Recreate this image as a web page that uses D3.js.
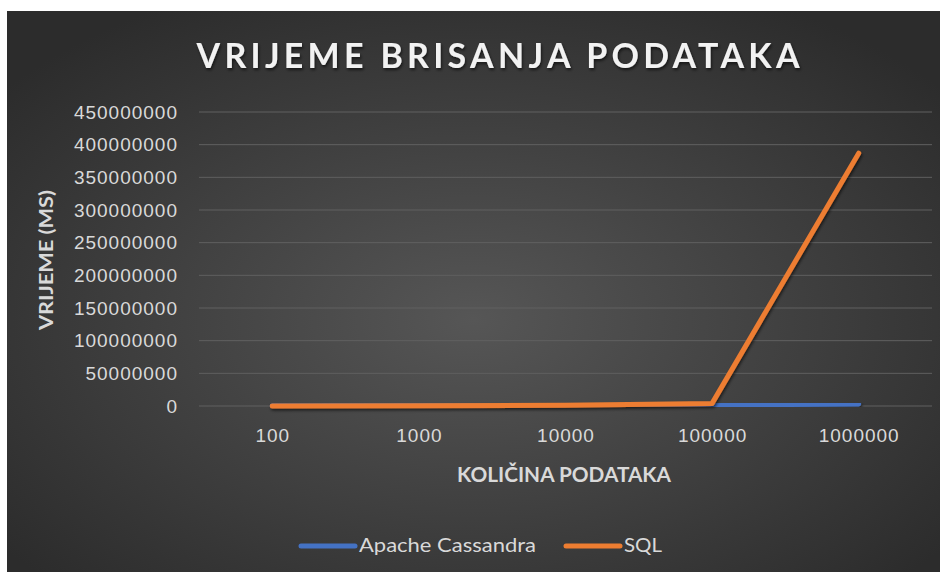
<!DOCTYPE html>
<html>
<head>
<meta charset="utf-8">
<script src="https://cdn.jsdelivr.net/npm/d3@7"></script>
<style>
body { margin: 0; background: #fff; }
svg { display: block; font-family: Lato, 'Open Sans', sans-serif; }
.grid line { stroke: #606060; stroke-width: 1; }
.axis text { fill: #d9d9d9; font-size: 19px; letter-spacing: 1px; }
.axis path, .axis line { display: none; }
.line { fill: none; stroke-width: 5px; stroke-linejoin: round; stroke-linecap: round; }
</style>
</head>
<body>
<svg width="940" height="572"></svg>
<script>
// Categories and series.
var categories = ['100', '1000', '10000', '100000', '1000000'];
var cassandra = [50000, 200000, 500000, 1500000, 3000000];
var sqlValues = [100000, 300000, 1000000, 4000000, 387000000];
var yTicks = [0, 50000000, 100000000, 150000000, 200000000, 250000000, 300000000, 350000000, 400000000, 450000000];
var seriesNames = ['Apache Cassandra', 'SQL'];
var seriesColors = ['#4472c4', '#ed7d31'];

var svg = d3.select('svg');
var defs = svg.append('defs');

// Excel-like dark radial background.
var grad = defs.append('radialGradient')
	.attr('id', 'bg')
	.attr('cx', '50%').attr('cy', '55%').attr('r', '65%');
grad.append('stop').attr('offset', '0%').attr('stop-color', '#565656');
grad.append('stop').attr('offset', '100%').attr('stop-color', '#2c2c2c');

var shadow = defs.append('filter').attr('id', 'shadow')
	.attr('x', '-10%').attr('y', '-10%').attr('width', '120%').attr('height', '130%');
shadow.append('feDropShadow')
	.attr('dx', 1).attr('dy', 2).attr('stdDeviation', 1.5)
	.attr('flood-color', '#000').attr('flood-opacity', 0.6);

svg.append('rect')
	.attr('x', 7).attr('y', 11)
	.attr('width', 933).attr('height', 561)
	.attr('fill', 'url(#bg)');

var margin = {left: 199, right: 8, top: 112, bottom: 166};
var width = 940 - margin.left - margin.right,
		height = 572 - margin.top - margin.bottom;

var inner = svg.append('g')
	.attr('transform', 'translate(' + margin.left + ',' + margin.top + ')');

var xScale = d3.scalePoint()
	.domain(categories)
	.range([0, width])
	.padding(0.5);
var yScale = d3.scaleLinear()
	.domain([0, 450000000])
	.range([height, 0]);

//Gridlines.
inner.append('g').attr('class', 'grid')
	.selectAll('line')
	.data(yTicks)
	.join('line')
	.attr('x1', 0).attr('x2', width)
	.attr('y1', function(d) { return yScale(d); })
	.attr('y2', function(d) { return yScale(d); });

//Axes.
inner.append('g')
	.attr('class', 'axis')
	.call(d3.axisLeft(yScale).tickValues(yTicks).tickSize(0).tickPadding(21).tickFormat(d3.format('d')));
inner.append('g')
	.attr('class', 'axis')
	.attr('transform', 'translate(0,' + height + ')')
	.call(d3.axisBottom(xScale).tickSize(0).tickPadding(23));

//Lines.
var line = d3.line()
	.x(function(d, i) { return xScale(categories[i]); })
	.y(function(d) { return yScale(d); });
[cassandra, sqlValues].forEach(function(vals, k) {
	inner.append('path')
		.datum(vals)
		.attr('class', 'line')
		.attr('d', line)
		.attr('filter', 'url(#shadow)')
		.style('stroke', seriesColors[k]);
});

//Title.
svg.append('text')
	.text('VRIJEME BRISANJA PODATAKA')
	.attr('x', 498).attr('y', 68)
	.attr('text-anchor', 'middle')
	.attr('textLength', 603)
	.attr('lengthAdjust', 'spacing')
	.attr('filter', 'url(#shadow)')
	.style('fill', '#f2f2f2')
	.style('font-size', '34px')
	.style('font-weight', 'bold');

//Axis titles.
svg.append('text')
	.text('VRIJEME (MS)')
	.attr('transform', 'translate(53,260) rotate(-90)')
	.attr('text-anchor', 'middle')
	.attr('textLength', 140)
	.attr('lengthAdjust', 'spacingAndGlyphs')
	.style('fill', '#d9d9d9')
	.style('font-size', '19px')
	.style('font-weight', 'bold');
svg.append('text')
	.text('KOLIČINA PODATAKA')
	.attr('x', 564).attr('y', 482)
	.attr('text-anchor', 'middle')
	.attr('textLength', 214)
	.attr('lengthAdjust', 'spacingAndGlyphs')
	.style('fill', '#d9d9d9')
	.style('font-size', '20px')
	.style('font-weight', 'bold');

//Legend.
var legendX = [298, 563];
var legendW = [177, 38];
seriesNames.forEach(function(name, k) {
	svg.append('line')
		.attr('x1', legendX[k] + 3).attr('x2', legendX[k] + 57)
		.attr('y1', 546).attr('y2', 546)
		.style('stroke', seriesColors[k])
		.style('stroke-width', '5px')
		.style('stroke-linecap', 'round');
	svg.append('text')
		.text(name)
		.attr('x', legendX[k] + 61).attr('y', 552)
		.attr('textLength', legendW[k])
		.attr('lengthAdjust', 'spacingAndGlyphs')
		.style('fill', '#d9d9d9')
		.style('font-size', '19px');
});
</script>
</body>
</html>
